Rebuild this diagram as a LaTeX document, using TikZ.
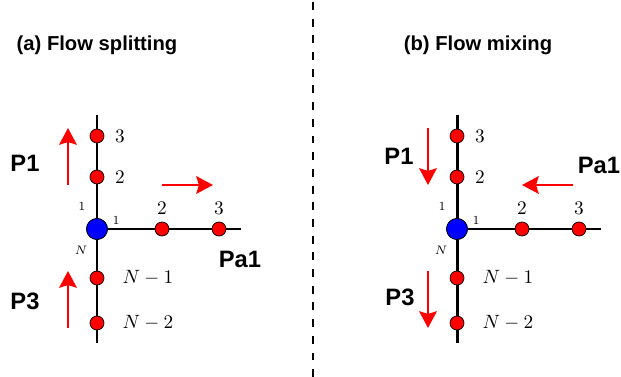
\documentclass[tikz,border=0pt]{standalone}
\usepackage{amsmath}
\usepackage{fontspec}
\setsansfont{Liberation Sans}
\usepackage{xcolor}
\usepackage{tikz}
\usetikzlibrary{arrows.meta,positioning}

\tikzset{
  pipe/.style={line width=1.7pt,black},
  cell/.style={circle,draw=black,line width=0.4pt,fill=red,inner sep=0pt,minimum size=0.28cm},
  junction/.style={circle,draw=black,line width=0.4pt,fill=blue,inner sep=0pt,minimum size=0.42cm},
  flow/.style={red,line width=1.4pt,-{Stealth[length=9.5pt,width=10pt,inset=1.5pt]}},
  pipename/.style={font=\sffamily\bfseries\fontsize{13.5}{15}\selectfont},
  title/.style={font=\sffamily\bfseries\fontsize{11.5}{13}\selectfont},
  idx/.style={font=\fontsize{11}{12}\selectfont},
  tiny/.style={font=\fontsize{7}{8}\selectfont}
}

\begin{document}
\begin{tikzpicture}[scale=1.0]
  \useasboundingbox (0,0) rectangle (12.42,7.54);
  % divider
  \coordinate (divtop) at (6.26,7.50);
  \coordinate (divbot) at (6.26,0);
  \draw[line width=1.2pt,dash pattern=on 4.5pt off 5pt] (divtop) -- (divbot);

  % (a) flow splitting
  \node[title] (titleA) at (1.94,6.64) {(a) Flow splitting};
  \coordinate (aTop) at (1.94,5.24);
  \coordinate (aBot) at (1.94,0.68);
  \coordinate (aEnd) at (4.82,2.96);
  \node[junction] (aJ) at (1.94,2.96) {};
  \draw[pipe] (aTop) -- (aJ) -- (aBot);
  \draw[pipe] (aJ) -- (aEnd);
  \node[junction] at (aJ) {};
  \node[cell] (aV3) at (1.94,4.82) {};
  \node[cell] (aV2) at (1.94,4.00) {};
  \node[cell] (aH2) at (3.24,2.96) {};
  \node[cell] (aH3) at (4.38,2.96) {};
  \node[cell] (aN1) at (1.94,1.98) {};
  \node[cell] (aN2) at (1.94,1.08) {};
  \node[idx] at (2.40,4.82) {$3$};
  \node[idx] at (2.40,4.00) {$2$};
  \node[idx] at (3.24,3.38) {$2$};
  \node[idx] at (4.38,3.38) {$3$};
  \node[idx] at (2.96,1.98) {$N-1$};
  \node[idx] at (2.96,1.08) {$N-2$};
  \node[tiny] at (1.64,3.40) {$1$};
  \node[tiny] at (2.32,3.12) {$1$};
  \node[tiny] at (1.62,2.54) {$N$};
  \node[pipename] (aP1) at (0.50,4.28) {P1};
  \node[pipename] (aP3) at (0.50,1.52) {P3};
  \node[pipename] (aPa1) at (4.80,2.36) {Pa1};
  \coordinate (aU1s) at (1.36,3.84); \coordinate (aU1e) at (1.36,4.98);
  \coordinate (aU3s) at (1.36,0.98); \coordinate (aU3e) at (1.36,2.12);
  \coordinate (aRs) at (3.24,3.84);  \coordinate (aRe) at (4.26,3.84);
  \draw[flow] (aU1s) -- (aU1e);
  \draw[flow] (aU3s) -- (aU3e);
  \draw[flow] (aRs) -- (aRe);

  % (b) flow mixing
  \begin{scope}[xshift=7.2cm]
  \node[title] (titleB) at (2.36,6.64) {(b) Flow mixing};
  \coordinate (bTop) at (1.94,5.24);
  \coordinate (bBot) at (1.94,0.68);
  \coordinate (bEnd) at (4.82,2.96);
  \node[junction] (bJ) at (1.94,2.96) {};
  \draw[pipe] (bTop) -- (bJ) -- (bBot);
  \draw[pipe] (bJ) -- (bEnd);
  \node[junction] at (bJ) {};
  \node[cell] (bV3) at (1.94,4.82) {};
  \node[cell] (bV2) at (1.94,4.00) {};
  \node[cell] (bH2) at (3.24,2.96) {};
  \node[cell] (bH3) at (4.38,2.96) {};
  \node[cell] (bN1) at (1.94,1.98) {};
  \node[cell] (bN2) at (1.94,1.08) {};
  \node[idx] at (2.40,4.82) {$3$};
  \node[idx] at (2.40,4.00) {$2$};
  \node[idx] at (3.24,3.38) {$2$};
  \node[idx] at (4.38,3.38) {$3$};
  \node[idx] at (2.96,1.98) {$N-1$};
  \node[idx] at (2.96,1.08) {$N-2$};
  \node[tiny] at (1.64,3.40) {$1$};
  \node[tiny] at (2.32,3.12) {$1$};
  \node[tiny] at (1.62,2.54) {$N$};
  \node[pipename] (bP1) at (0.78,4.42) {P1};
  \node[pipename] (bP3) at (0.80,1.60) {P3};
  \node[pipename] (bPa1) at (4.78,4.24) {Pa1};
  \coordinate (bD1s) at (1.36,4.98); \coordinate (bD1e) at (1.36,3.84);
  \coordinate (bD3s) at (1.36,2.12); \coordinate (bD3e) at (1.36,0.98);
  \coordinate (bLs) at (4.26,3.84);  \coordinate (bLe) at (3.24,3.84);
  \draw[flow] (bD1s) -- (bD1e);
  \draw[flow] (bD3s) -- (bD3e);
  \draw[flow] (bLs) -- (bLe);
  \end{scope}
\end{tikzpicture}
\end{document}
